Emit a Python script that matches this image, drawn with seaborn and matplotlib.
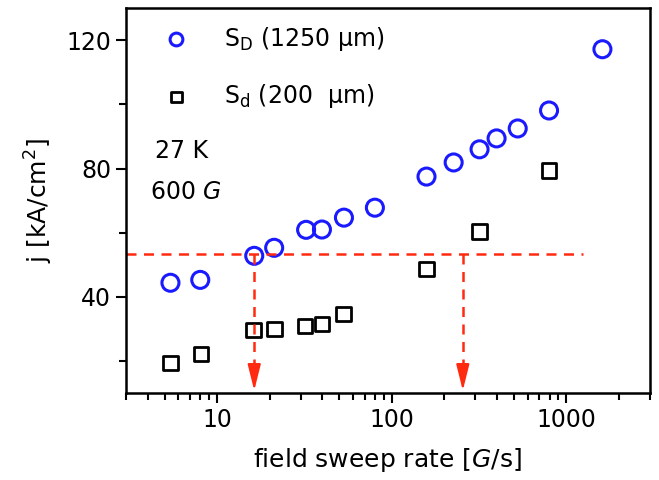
import numpy as np
import pandas as pd
import matplotlib
matplotlib.use("Agg")
import matplotlib.pyplot as plt
import seaborn as sns

# data
rate_D = [5.4, 8.0, 16.3, 21.2, 32.3, 39.8, 53.2, 80, 158, 226, 318, 398, 526, 795, 1607]
j_D = [44.4, 45.3, 52.8, 55.3, 60.9, 61.0, 64.7, 67.8, 77.5, 81.9, 86.0, 89.4, 92.5, 98.1, 117.2]

rate_d = [5.4, 8.1, 16.1, 21.3, 31.8, 39.8, 53, 158, 318, 795]
j_d = [19.4, 22.2, 29.7, 30.0, 30.9, 31.6, 34.7, 48.75, 60.3, 79.4]

j_cut = 53.4
cut_rates = [16.3, 255]
line_end = 1250

df_D = pd.DataFrame({"rate": rate_D, "j": j_D})
df_d = pd.DataFrame({"rate": rate_d, "j": j_d})

sns.set_style("ticks")
plt.rcParams['font.family'] = ['DejaVu Sans']
plt.rcParams.update({"text.color": "black", "axes.labelcolor": "black",
                     "xtick.color": "black", "ytick.color": "black",
                     "axes.edgecolor": "black"})

fig = plt.figure(figsize=(6.59, 4.8), dpi=100)
ax = fig.add_axes([0.191, 0.181, 0.795, 0.802])

sns.scatterplot(data=df_D, x="rate", y="j", marker="o", s=150, facecolor="none",
                edgecolor="#1a1aff", linewidth=2.2, label="S$_\\mathregular{D}$ (1250 μm)", ax=ax)
sns.scatterplot(data=df_d, x="rate", y="j", marker="s", s=110, facecolor="none",
                edgecolor="black", linewidth=2.0, label="S$_\\mathregular{d}$ (200  μm)", ax=ax)

# red dashed guide lines with arrows
red = "#ff2a10"
ax.plot([3, line_end], [j_cut, j_cut], ls=(0, (4, 3)), color=red, lw=1.8, zorder=1)
for r in cut_rates:
    ax.plot([r, r], [j_cut, 16], ls=(0, (4, 3)), color=red, lw=1.8, zorder=1)
    ax.annotate("", xy=(r, 10.8), xytext=(r, 17),
                arrowprops=dict(arrowstyle="-|>,head_length=0.8,head_width=0.2", color=red,
                                lw=1.5, mutation_scale=20, shrinkA=0, shrinkB=0))

ax.set_xscale("log")
ax.set_xlim(3, 3000)
ax.set_ylim(10, 130)
ax.set_yticks([40, 80, 120])
ax.set_yticks([20, 60, 100], minor=True)
ax.tick_params(which="major", length=7, width=1.5, labelsize=17, direction="out")
ax.tick_params(which="minor", length=5, width=1.5, direction="out")
ax.set_xticks([10, 100, 1000])
ax.set_xticklabels(["10", "100", "1000"])
for s in ax.spines.values():
    s.set_linewidth(1.8)
    s.set_visible(True)

ax.set_xlabel("field sweep rate [$G$/s]", fontsize=18, labelpad=10)
ax.set_ylabel("j [kA/cm$^2$]", fontsize=18, labelpad=8)

ax.text(0.055, 0.61, "27 K", transform=ax.transAxes, fontsize=17)
ax.text(0.047, 0.505, "600 $G$", transform=ax.transAxes, fontsize=17)

ax.legend(loc="upper left", frameon=False, fontsize=17, handletextpad=1.0,
          labelspacing=1.25, borderaxespad=0.3, markerscale=0.75,
          bbox_to_anchor=(0.02, 1.0))

fig.savefig("out.png", dpi=100)
